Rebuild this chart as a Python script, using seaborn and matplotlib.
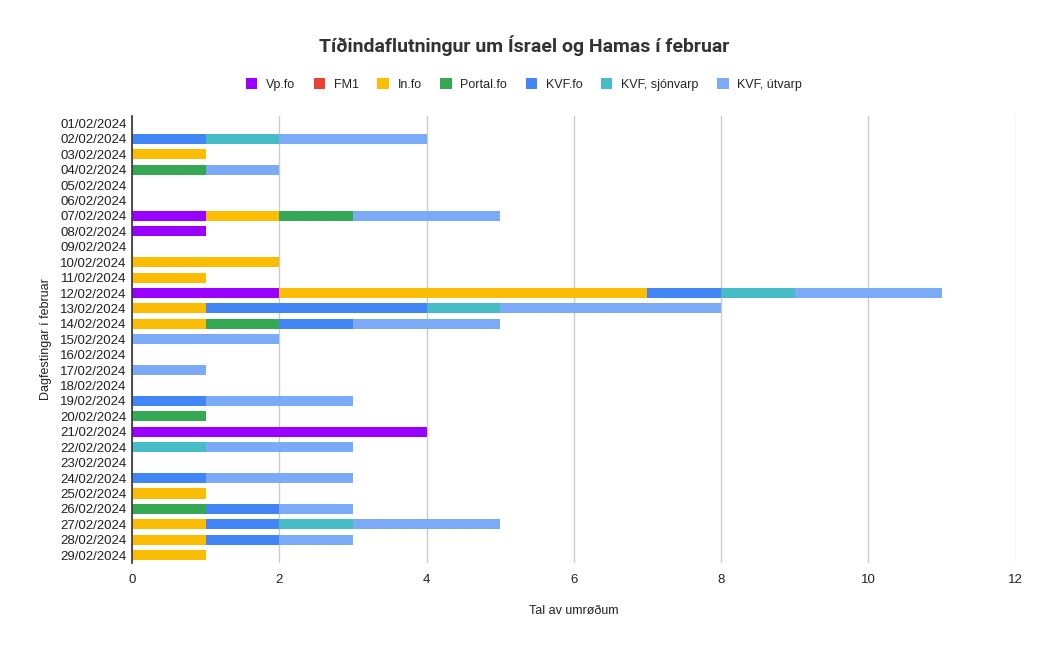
import matplotlib
matplotlib.use("Agg")
import matplotlib.pyplot as plt
from matplotlib.patches import Patch
import seaborn as sns
import pandas as pd
import numpy as np

dates = [f"{d:02d}/02/2024" for d in range(1, 30)]
series_names = ["Vp.fo", "FM1", "In.fo", "Portal.fo", "KVF.fo", "KVF, sjónvarp", "KVF, útvarp"]
colors = ["#9900ff", "#ea4335", "#fbbc04", "#34a853", "#4285f4", "#46bdc6", "#7baaf7"]

vp       = [0,0,0,0,0,0,1,1,0,0,0,2,0,0,0,0,0,0,0,0,4,0,0,0,0,0,0,0,0]
fm1      = [0]*29
info     = [0,0,1,0,0,0,1,0,0,2,1,5,1,1,0,0,0,0,0,0,0,0,0,0,1,0,1,1,1]
portal   = [0,0,0,1,0,0,1,0,0,0,0,0,0,1,0,0,0,0,0,1,0,0,0,0,0,1,0,0,0]
kvf      = [0,1,0,0,0,0,0,0,0,0,0,1,3,1,0,0,0,0,1,0,0,0,0,1,0,1,1,1,0]
sjonvarp = [0,1,0,0,0,0,0,0,0,0,0,1,1,0,0,0,0,0,0,0,0,1,0,0,0,0,1,0,0]
utvarp   = [0,2,0,1,0,0,2,0,0,0,0,2,3,2,2,0,1,0,2,0,0,2,0,2,0,1,2,1,0]

values = [vp, fm1, info, portal, kvf, sjonvarp, utvarp]

df = pd.DataFrame({name: vals for name, vals in zip(series_names, values)})
df["date"] = dates
cum = df[series_names].cumsum(axis=1)

sns.set_theme(style="white")
plt.rcParams["font.family"] = ["Liberation Sans", "DejaVu Sans"]

fig = plt.figure(figsize=(10.48, 6.5), dpi=100)
ax = fig.add_axes([0.126, 0.134, 0.843, 0.688])

for name, col in reversed(list(zip(series_names, colors))):
    sns.barplot(x=cum[name].values, y=df["date"], color=col, orient="h",
                width=0.65, ax=ax, saturation=1, linewidth=0)

ax.set_xlim(0, 12)
ax.set_xticks(np.arange(0, 13, 2))
ax.set_ylim(len(dates) - 0.5, -0.5)
ax.grid(axis="x", color="#cccccc", linewidth=1)
ax.grid(axis="y", visible=False)
ax.set_axisbelow(True)
for s in ["top", "right", "bottom"]:
    ax.spines[s].set_visible(False)
ax.spines["left"].set_color("#333333")
ax.spines["left"].set_linewidth(1.2)
ax.tick_params(axis="both", length=0, labelsize=9.5, colors="#222222")
ax.tick_params(axis="y", pad=4)
ax.tick_params(axis="x", pad=8)
ax.set_xlabel("Tal av umrøðum", fontsize=9, color="#222222", labelpad=14)
ax.set_ylabel("Dagfestingar í februar", fontsize=9, color="#222222", labelpad=6)

fig.text(0.5, 0.93, "Tíðindaflutningur um Ísrael og Hamas í februar",
         ha="center", va="center", fontsize=14, fontweight="bold",
         color="#333333", family=["Roboto", "DejaVu Sans"])

handles = [Patch(facecolor=c, edgecolor="none", label=n) for n, c in zip(series_names, colors)]
fig.legend(handles=handles, loc="center", bbox_to_anchor=(0.5, 0.87), ncol=7,
           frameon=False, fontsize=9, handlelength=0.9, handleheight=0.9,
           handletextpad=0.7, columnspacing=1.5)

fig.savefig("out.png", dpi=100, facecolor="white")
